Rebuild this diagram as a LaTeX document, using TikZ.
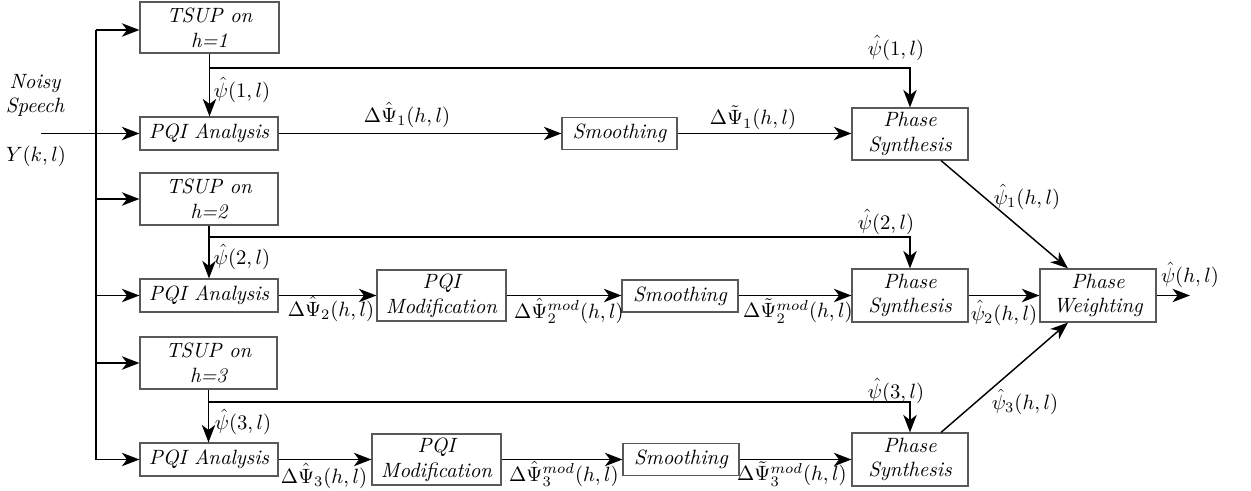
\documentclass[tikz,border=0pt]{standalone}
\usetikzlibrary{arrows.meta}
\begin{document}
\begin{tikzpicture}[x=0.017cm,y=-0.017cm,
  box/.style={draw=black!65,line width=0.55pt,inner sep=0pt,align=center,font=\itshape},
  sz/.style 2 args={minimum width=#1*0.017cm,minimum height=#2*0.017cm},
  conn/.style={line width=0.7pt},
  arr/.style={conn,-{Stealth[length=8.5pt,width=6.5pt,inset=2.5pt]}},
  lbl/.style={inner sep=0pt}]
\useasboundingbox (0,0) rectangle (1251,491);
% boxes
\node[box,sz={139}{51}] (T1) at (209.5,27.5) {TSUP on\\h=1};
\node[box,sz={138}{33}] (A1) at (209,133.5) {PQI Analysis};
\node[box,sz={115}{32}] (S1) at (619.5,133.5) {Smoothing};
\node[box,sz={116}{52}] (P1) at (910,134) {Phase\\Synthesis};
\node[box,sz={138}{52}] (T2) at (209,199) {TSUP on\\h=2};
\node[box,sz={138}{33}] (A2) at (209,295.5) {PQI Analysis};
\node[box,sz={129}{51}] (M2) at (441.5,295.5) {PQI\\Modification};
\node[box,sz={116}{32}] (S2) at (680,296) {Smoothing};
\node[box,sz={116}{53}] (P2) at (910,295.5) {Phase\\Synthesis};
\node[box,sz={116}{53}] (W) at (1098,295.5) {Phase\\Weighting};
\node[box,sz={137}{52}] (T3) at (208.5,363) {TSUP on\\h=3};
\node[box,sz={138}{33}] (A3) at (209,459.5) {PQI Analysis};
\node[box,sz={129}{51}] (M3) at (436.5,459.5) {PQI\\Modification};
\node[box,sz={116}{32}] (S3) at (681,459.5) {Smoothing};
\node[box,sz={116}{53}] (P3) at (910,459.5) {Phase\\Synthesis};
% input text
\node[lbl,font=\itshape] (noisy) at (35,84) {Noisy};
\node[lbl,font=\itshape] (speech) at (35,107) {Speech};
\node[lbl] (Ykl) at (36,156) {$Y(k,l)$};
% coordinates
\coordinate (in) at (41,133.5);
\coordinate (b1) at (96,30);
\coordinate (b2) at (96,199);
\coordinate (b3) at (96,295.5);
\coordinate (b4) at (96,363);
\coordinate (b5) at (96,459.5);
\coordinate (j1) at (209.5,68);
\coordinate (j2) at (209,237);
\coordinate (j3) at (208.5,402);
\coordinate (out) at (1190,295.5);
% bus
\draw[conn] (b1) -- (b5);
\draw[arr] (b1) -- (b1 -| T1.west);
\draw[arr] (b2) -- (b2 -| T2.west);
\draw[arr] (b3) -- (A2.west);
\draw[arr] (b4) -- (b4 -| T3.west);
\draw[arr] (b5) -- (A3.west);
\draw[arr] (in) -- (A1.west);
% TSUP down
\draw[arr] (T1.south) -- (T1.south |- A1.north);
\draw[arr] (T2.south) -- (T2.south |- A2.north);
\draw[arr] (T3.south) -- (T3.south |- A3.north);
\draw[arr] (j1) -| (P1.north);
\draw[arr] (j2) -| (P2.north);
\draw[arr] (j3) -| (P3.north);
% rows
\draw[arr] (A1) -- (S1);
\draw[arr] (S1) -- (P1.west |- S1);
\draw[arr] (A2) -- (M2);
\draw[arr] (M2) -- (S2.west |- M2);
\draw[arr] (S2.east |- M2) -- (P2);
\draw[arr] (P2) -- (W);
\draw[arr] (W) -- (out);
\draw[arr] (A3) -- (M3);
\draw[arr] (M3) -- (S3);
\draw[arr] (S3) -- (P3);
\draw[arr] ([xshift=31*0.017cm]P1.south) -- ([xshift=-30*0.017cm]W.north);
\draw[arr] ([xshift=31*0.017cm]P3.north) -- ([xshift=-30*0.017cm]W.south);
% labels
\node[lbl] (l1a) at (242,90) {$\hat\psi(1,l)$};
\node[lbl] (l2a) at (242,257) {$\hat\psi(2,l)$};
\node[lbl] (l3a) at (243,422) {$\hat\psi(3,l)$};
\node[lbl] (l1b) at (896,48) {$\hat\psi(1,l)$};
\node[lbl] (l2b) at (886,222) {$\hat\psi(2,l)$};
\node[lbl] (l3b) at (896,391) {$\hat\psi(3,l)$};
\node[lbl] (d1) at (407,115) {$\Delta\hat\Psi_1(h,l)$};
\node[lbl] (d1t) at (753,118) {$\Delta\tilde\Psi_1(h,l)$};
\node[lbl] (d2) at (331,309) {$\Delta\hat\Psi_2(h,l)$};
\node[lbl] (d2m) at (569,311) {$\Delta\hat\Psi_2^{mod}(h,l)$};
\node[lbl] (d2t) at (798,311) {$\Delta\tilde\Psi_2^{mod}(h,l)$};
\node[lbl] (p2) at (1004,313) {$\hat\psi_2(h,l)$};
\node[lbl] (d3) at (324,476) {$\Delta\hat\Psi_3(h,l)$};
\node[lbl] (d3m) at (564,474) {$\Delta\hat\Psi_3^{mod}(h,l)$};
\node[lbl] (d3t) at (792,474) {$\Delta\tilde\Psi_3^{mod}(h,l)$};
\node[lbl] (p1) at (1027,197) {$\hat\psi_1(h,l)$};
\node[lbl] (p3) at (1025,402) {$\hat\psi_3(h,l)$};
\node[lbl] (po) at (1190,275) {$\hat\psi(h,l)$};
\end{tikzpicture}
\end{document}
